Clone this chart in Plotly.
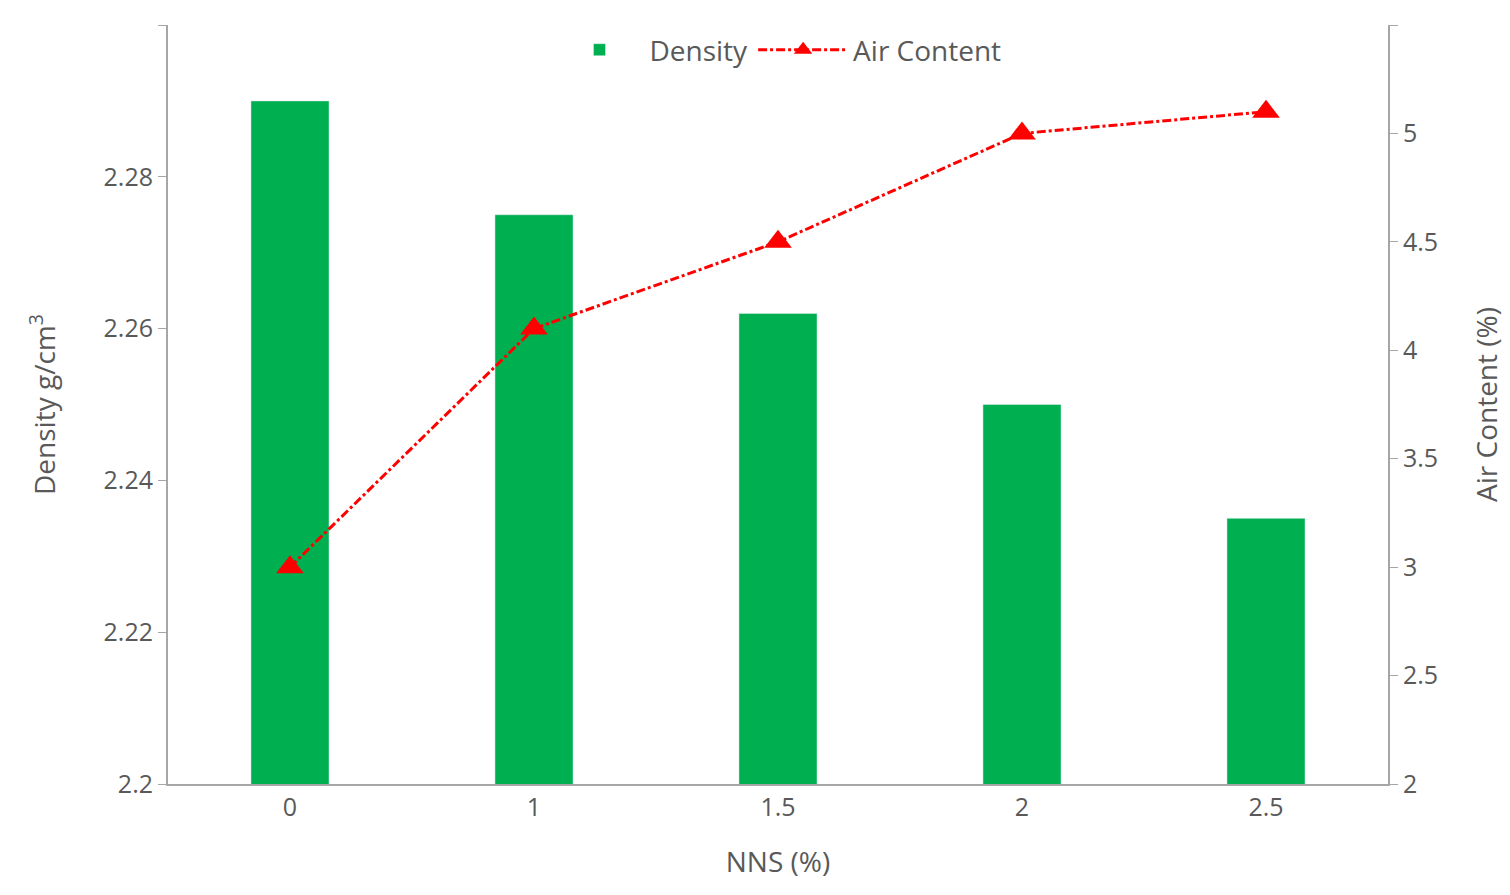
import plotly.graph_objects as go

nns = ["0", "1", "1.5", "2", "2.5"]
density = [2.29, 2.275, 2.262, 2.25, 2.235]
air_content = [3.0, 4.1, 4.5, 5.0, 5.1]
density_ticks = [2.2, 2.22, 2.24, 2.26, 2.28, 2.3]
air_ticks = [2, 2.5, 3, 3.5, 4, 4.5, 5, 5.5]

GREY = "#595959"
FONT = "Open Sans"

fig = go.Figure()
fig.add_trace(go.Bar(x=nns, y=density, name="Density", marker_color="#00B050", width=0.32))
fig.add_trace(go.Scatter(
    x=nns, y=air_content, name="Air Content", yaxis="y2",
    mode="lines+markers",
    line=dict(color="#FF0000", width=3, dash="dashdot"),
    marker=dict(symbol="triangle-up", size=24, color="#FF0000"),
))

axis_common = dict(showgrid=False, showline=True, linecolor="#A6A6A6", linewidth=2,
                   ticks="outside", tickcolor="#A6A6A6", ticklen=8, automargin=False,
                   tickfont=dict(size=25, color=GREY, family=FONT), zeroline=False)

fig.update_layout(
    width=1510, height=895,
    margin=dict(l=160, r=130, t=17, b=119),
    plot_bgcolor="white", paper_bgcolor="white",
    font=dict(family=FONT, color=GREY),
    xaxis=dict(showgrid=False, showline=True, linecolor="#A6A6A6", linewidth=2, automargin=False,
               tickfont=dict(size=25, color=GREY, family=FONT),
               title=dict(text="NNS (%)", font=dict(size=28, color=GREY), standoff=30)),
    yaxis=dict(axis_common, range=[2.2, 2.3], tickvals=density_ticks,
               title=dict(text="Density g/cm<sup>3</sup>", font=dict(size=28, color=GREY), standoff=40)),
    yaxis2=dict(axis_common, overlaying="y", side="right", range=[2, 5.5], tickvals=air_ticks,
                title=dict(text="Air Content (%)", font=dict(size=28, color=GREY), standoff=40)),
    legend=dict(orientation="h", x=0.5, xanchor="center", y=1.0, yanchor="top",
                font=dict(size=28, color=GREY), bgcolor="rgba(255,255,255,0)", itemwidth=90),
    showlegend=True,
)

fig.write_html("out.html")
